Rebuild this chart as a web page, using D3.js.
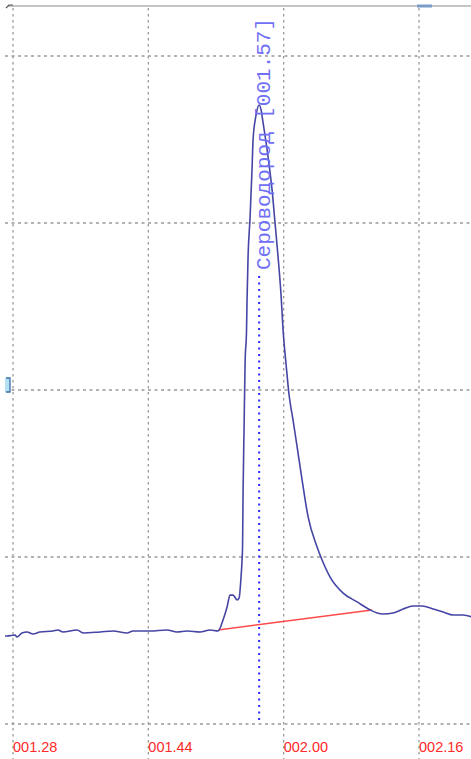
<!DOCTYPE html>
<html>
<head>
<meta charset="utf-8">
<script src="https://cdn.jsdelivr.net/npm/d3@7/dist/d3.min.js"></script>
<style>
  html, body { margin: 0; padding: 0; background: #fff; }
  svg { display: block; }
</style>
</head>
<body>
<svg id="chart" width="471" height="759"></svg>
<script>
// ---- data ----
const times = [87.05, 87.29, 88.24, 88.47, 89.06, 89.66, 90.37, 91.19, 92.73, 93.32, 93.91, 95.57, 96.28, 98.29, 99.83, 101.48, 102.19, 104.20, 106.21, 107.39, 108.58, 110.11, 111.30, 112.24, 112.83, 113.31, 113.66, 114.02, 114.49, 114.73, 114.96, 115.08, 115.14, 115.20, 115.32, 115.44, 115.61, 115.67, 115.79, 116.03, 116.27, 116.38, 116.74, 117.09, 117.33, 117.57, 118.16, 118.63, 118.98, 119.34, 119.69, 119.93, 120.29, 120.64, 121.11, 121.59, 122.18, 122.89, 123.95, 124.54, 125.49, 127.03, 128.68, 130.22, 131.05, 131.76, 132.94, 134.12, 135.30, 136.37, 137.67, 138.85, 140.03, 141.22, 142.29];
const signal = [5.27, 5.27, 5.33, 5.21, 5.45, 5.51, 5.39, 5.51, 5.57, 5.63, 5.51, 5.63, 5.45, 5.51, 5.57, 5.45, 5.57, 5.57, 5.63, 5.51, 5.57, 5.51, 5.63, 5.57, 6.23, 7.01, 7.72, 7.72, 7.43, 7.54, 8.80, 9.82, 10.60, 13.83, 17.78, 21.62, 23.59, 25.39, 27.96, 30.36, 33.35, 34.97, 36.47, 37.07, 36.77, 35.99, 33.95, 31.98, 30.00, 27.96, 25.69, 23.59, 21.50, 19.70, 18.20, 16.59, 14.61, 12.40, 10.60, 9.82, 8.80, 7.84, 7.31, 6.83, 6.65, 6.59, 6.65, 6.89, 7.07, 7.07, 6.89, 6.71, 6.53, 6.53, 6.41];

const baselineTimes = [112.24, 130.45];
const baselineValues = [5.63, 6.83];

const peakName = "Сероводород";
const peakTime = 117.1;
const peakLabel = "[001.57]";

const xTickValues = [88, 104, 120, 136];
const xTickLabels = ["001.28", "001.44", "002.00", "002.16"];
const yGridValues = [0, 10, 20, 30, 40];

// ---- layout ----
const W = 471, H = 759;
const svg = d3.select("#chart");

const x = d3.scaleLinear().domain([88, 136]).range([13, 419]);
const y = d3.scaleLinear().domain([0, 40]).range([724, 56]);

// top border
svg.append("line")
  .attr("x1", 8).attr("x2", W).attr("y1", 6).attr("y2", 6)
  .attr("stroke", "#c4c4c4").attr("stroke-width", 2);
svg.append("path")
  .attr("d", "M6,8 L9,5 L13,5")
  .attr("fill", "none").attr("stroke", "#555").attr("stroke-width", 1.2);
svg.append("rect")
  .attr("x", 417).attr("y", 4.5).attr("width", 15).attr("height", 3)
  .attr("fill", "#7c9cc8");

// grid: horizontal
svg.append("g").selectAll("line").data(yGridValues).join("line")
  .attr("x1", 5).attr("x2", W)
  .attr("y1", d => y(d)).attr("y2", d => y(d))
  .attr("stroke", "#9a9a9a").attr("stroke-width", 1.3)
  .attr("stroke-dasharray", "3,3.5");

// grid: vertical
svg.append("g").selectAll("line").data(xTickValues).join("line")
  .attr("x1", d => x(d)).attr("x2", d => x(d))
  .attr("y1", 8).attr("y2", H)
  .attr("stroke", "#9a9a9a").attr("stroke-width", 1.3)
  .attr("stroke-dasharray", "2.5,3.5");

// left marker
svg.append("rect").attr("x", 5).attr("y", 378).attr("width", 5).attr("height", 14)
  .attr("fill", "#b5dff2");
svg.append("path").attr("d", "M6,378 L10,378 L10,392 L6,392")
  .attr("fill", "none").attr("stroke", "#3d6fa8").attr("stroke-width", 1.3);

// x tick labels
svg.append("g").selectAll("text").data(xTickValues).join("text")
  .attr("x", d => x(d)).attr("y", 752)
  .attr("fill", "#ff2a2a")
  .attr("font-family", "Liberation Sans, Arial, sans-serif")
  .attr("font-size", "14.5px")
  .text((d, i) => xTickLabels[i]);

// baseline
const pts = times.map((t, i) => [t, signal[i]]);
const line = d3.line().x(d => x(d[0])).y(d => y(d[1]));
svg.append("path")
  .datum(baselineTimes.map((t, i) => [t, baselineValues[i]]))
  .attr("d", line)
  .attr("fill", "none").attr("stroke", "#ff4a4a").attr("stroke-width", 1.5);

// peak marker line
const labelStartY = 270;
svg.append("line")
  .attr("x1", x(peakTime)).attr("x2", x(peakTime))
  .attr("y1", labelStartY + 6).attr("y2", y(0))
  .attr("stroke", "#2a2aff").attr("stroke-width", 2)
  .attr("stroke-dasharray", "2,4.5");

// signal curve
const curveLine = d3.line().x(d => x(d[0])).y(d => y(d[1])).curve(d3.curveMonotoneX);
svg.append("path")
  .datum(pts)
  .attr("d", curveLine)
  .attr("fill", "none").attr("stroke", "#4545a5").attr("stroke-width", 1.6)
  .attr("stroke-linejoin", "round");

// peak label
svg.append("text")
  .attr("transform", `translate(${x(peakTime) + 11},${labelStartY}) rotate(-90)`)
  .attr("fill", "#7070f5")
  .attr("font-family", "Liberation Mono, Courier New, monospace")
  .attr("font-size", "21px")
  .text(peakName + " " + peakLabel);
</script>
</body>
</html>
